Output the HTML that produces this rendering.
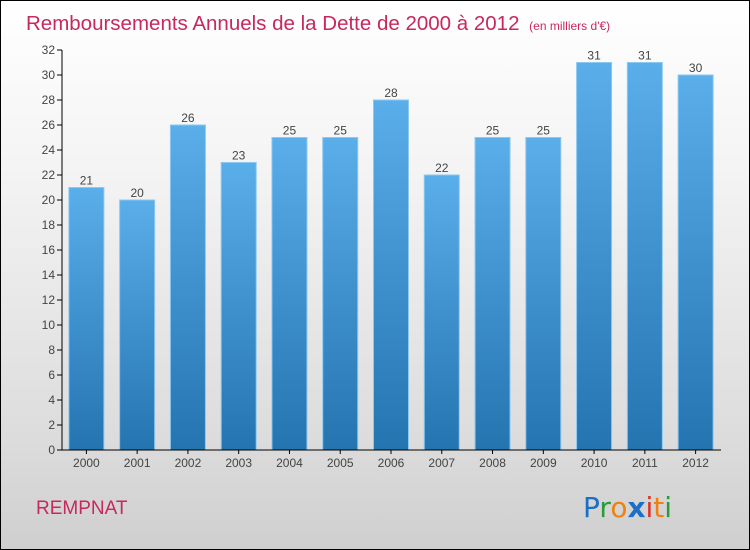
<!DOCTYPE html>
<html><head><meta charset="utf-8"><style>
body{margin:0}
#c{position:relative;width:748px;height:548px;border:1px solid #000;background:linear-gradient(#fff,#f4f4f4 30%,#dcdcdc 80%,#cfcfcf);font-family:"Liberation Sans",sans-serif;overflow:hidden}
</style></head><body>
<div id="c">
<svg id="s" width="748" height="548">
<defs><linearGradient id="g" x1="0" y1="0" x2="0" y2="1"><stop offset="0" stop-color="#5aaeea"/><stop offset="1" stop-color="#2474b0"/></linearGradient></defs>
<text x="25" y="29" font-size="20.5" fill="#c8285c">Remboursements Annuels de la Dette de 2000 à 2012 <tspan font-size="12" dx="4">(en milliers d'€)</tspan></text>
<text x="35" y="513" font-size="19" fill="#c8285c">REMPNAT</text>
<g font-size="28" font-family="'DejaVu Sans',sans-serif">
<text x="582" y="516"><tspan fill="#1a6fc8">P</tspan><tspan fill="#2a9a3a">r</tspan><tspan fill="#f08010">o</tspan><tspan fill="#1a6fc8" font-weight="bold">x</tspan><tspan fill="#e03020">i</tspan><tspan fill="#f08010">t</tspan><tspan fill="#2a9a3a">i</tspan></text></g>
</svg></div>
<script>
const years=["2000","2001","2002","2003","2004","2005","2006","2007","2008","2009","2010","2011","2012"];
const values=[21,20,26,23,25,25,28,22,25,25,31,31,30];
const yTicks=[0,2,4,6,8,10,12,14,16,18,20,22,24,26,28,30,32];
const s=document.getElementById('s'),NS="http://www.w3.org/2000/svg";
const x0=60,x1=720,y0=449,yTop=49,ymax=32;
const y=v=>y0-(y0-yTop)*v/ymax;
const step=(x1-x0)/years.length,bw=35;
function el(t,a,txt){const e=document.createElementNS(NS,t);for(const k in a)e.setAttribute(k,a[k]);if(txt!==undefined)e.textContent=txt;s.appendChild(e);return e;}
years.forEach((yr,i)=>{const cx=x0+step*(i+0.5),v=values[i];
const r=el('rect',{x:cx-bw/2,y:y(v),width:bw,height:y0-y(v),fill:'url(#g)',stroke:'#8cc8f0','stroke-width':1});


const t=el('text',{x:cx,y:y(v)-3,'font-size':12,fill:'#444','text-anchor':'middle'},v);


const xl=el('text',{x:cx,y:y0+17,'font-size':12,fill:'#444','text-anchor':'middle'},yr);


const tk=el('line',{x1:cx,x2:cx,y1:y0,y2:y0+4,stroke:'#000'});


});
yTicks.forEach(v=>{const l=el('line',{x1:x0-4,x2:x0+1,y1:y(v),y2:y(v),stroke:'#000'});


const t=el('text',{x:x0-6,y:y(v)+4,'font-size':12,fill:'#444','text-anchor':'end'},v);

});
const ya=el('line',{x1:x0+1,x2:x0+1,y1:yTop,y2:y0,stroke:'#000'});


const xa=el('line',{x1:x0,x2:x1,y1:y0,y2:y0,stroke:'#000'});


</script>
</body></html>
